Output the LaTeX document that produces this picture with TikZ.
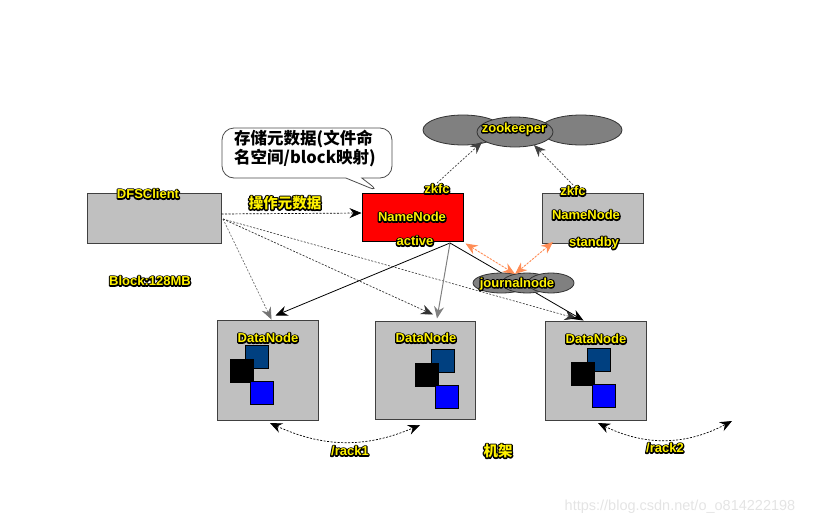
\documentclass[tikz,border=0pt]{standalone}
\usepackage{fontspec}
\setmainfont{Liberation Sans}
\newfontfamily\cjk{Noto Sans CJK SC}
\usetikzlibrary{arrows.meta,shapes.geometric,shapes.callouts}
\definecolor{boxgray}{HTML}{C0C0C0}
\definecolor{ellgray}{HTML}{808080}
\definecolor{dkblue}{HTML}{004080}
\definecolor{pureblue}{HTML}{0000FF}
\definecolor{orng}{HTML}{FF8C55}
\definecolor{wm}{HTML}{E4E4E4}
\newcommand\yl[1]{\rlap{\special{pdf:literal direct 1 Tr 2.6 w 1 j 0 0 0 RG}#1\special{pdf:literal direct 0 Tr}}#1}
\tikzset{
  box/.style={draw=black!75, line width=1pt, fill=boxgray, inner sep=0pt},
  sq/.style={draw=black, line width=0.8pt, minimum size=23pt, inner sep=0pt},
  ell/.style={ellipse, draw=black!80, line width=0.8pt, fill=ellgray, inner sep=0pt},
  lbl/.style={text=yellow, font=\bfseries\fontsize{13}{15}\selectfont, inner sep=0pt},
  clbl/.style={text=yellow, font=\cjk\bfseries\fontsize{14.5}{16}\selectfont, inner sep=0pt},
  tip/.style={Stealth[length=12pt,width=10pt,inset=4pt]},
  hd/.style={-{Stealth[length=12pt,width=10pt,inset=4pt]}},
  dhd/.style={{Stealth[length=12pt,width=10pt,inset=4pt]}-{Stealth[length=12pt,width=10pt,inset=4pt]}},
  dsh/.style={dashed, dash pattern=on 2pt off 1.5pt, line width=0.7pt},
}
\begin{document}
\begin{tikzpicture}[x=1pt,y=-1pt]
\useasboundingbox (0,0) rectangle (815,525);
% callout
\node[rectangle callout, draw=black!70, line width=0.8pt, fill=white, rounded corners=12pt,
      minimum width=170pt, minimum height=50pt, inner sep=0pt,
      callout absolute pointer={(380,192)}, callout pointer width=16pt] (call) at (307,153) {};
\node[anchor=north west, align=left, inner sep=0pt,
      font=\cjk\bfseries\fontsize{16.5}{19}\selectfont] (calltxt) at (234,130) {存储元数据(文件命\\名空间/block映射)};
% boxes
\node[box, minimum width=134pt, minimum height=50pt] (dfs) at (154,218) {};
\node[box, fill=red, draw=black, minimum width=101pt, minimum height=48pt] (nna) at (412.5,217) {};
\node[box, minimum width=101pt, minimum height=50pt] (nns) at (592.5,218) {};
\node[box, minimum width=101pt, minimum height=100pt] (dn1) at (267.5,370) {};
\node[box, minimum width=100pt, minimum height=98pt] (dn2) at (425,370) {};
\node[box, minimum width=101pt, minimum height=99pt] (dn3) at (595.5,370.5) {};
% squares
\node[sq, fill=dkblue] (dn1a) at (256.5,356.5) {};
\node[sq, fill=black] (dn1b) at (241.5,370.5) {};
\node[sq, fill=pureblue] (dn1c) at (261.5,392.5) {};
\node[sq, fill=dkblue] (dn2a) at (442.5,360.5) {};
\node[sq, fill=black] (dn2b) at (427,374.5) {};
\node[sq, fill=pureblue] (dn2c) at (447,396.5) {};
\node[sq, fill=dkblue] (dn3a) at (598.5,359.5) {};
\node[sq, fill=black] (dn3b) at (583,374) {};
\node[sq, fill=pureblue] (dn3c) at (603.5,396) {};
% coordinates
\coordinate (dfsout) at (223,219);
\coordinate (nnout) at (450,243);
% DFSClient -> NameNode
\draw[dsh, hd] ([yshift=4pt]dfs.east) -- ([yshift=4pt]nna.west);
% DFSClient -> DataNodes
\draw[dsh, draw=black!55, hd] (dfsout) -- ([xshift=4pt]dn1.north);
\draw[dsh, draw=black!80, hd] (dfsout) -- ([xshift=8pt,yshift=6pt]dn2.north);
\draw[dsh, draw=black!80, line width=0.6pt, hd] (dfsout) -- ([xshift=-19pt,yshift=2pt]dn3.north);
% NameNode -> DataNodes
\draw[line width=0.8pt, hd] (nnout) -- ([xshift=8pt,yshift=4pt]dn1.north);
\draw[line width=1pt, draw=black!50, hd] (nnout) -- ([xshift=12pt,yshift=2pt]dn2.north);
\draw[line width=0.8pt, hd] (nnout) -- ([xshift=-12pt]dn3.north);
% zookeeper
\node[ell, minimum width=80pt, minimum height=30pt] (zk1) at (463,130) {};
\node[ell, minimum width=82pt, minimum height=30pt] (zk3) at (581,130) {};
\node[ell, minimum width=76pt, minimum height=30pt] (zk2) at (515,132) {};
% journalnode
\node[ell, minimum width=57pt, minimum height=20pt] (jn1) at (501.5,283) {};
\node[ell, minimum width=50pt, minimum height=20pt] (jn2) at (527,283) {};
\node[ell, minimum width=46pt, minimum height=20pt] (jn3) at (551,283) {};
\coordinate (jntop) at (515,274);
% orange
\draw[dsh, draw=orng, fill=orng, line width=0.9pt, dhd] ([xshift=2pt,yshift=-2pt]nna.south east) -- (jntop);
\draw[dsh, draw=orng, fill=orng, line width=0.9pt, dhd] (553,242) -- (jntop);
% zkfc -> zookeeper
\draw[dsh, draw=black!75, hd] (437,183) -- (482,142);
\draw[dsh, draw=black!75, hd] (573,185) -- (534,145);
% racks
\coordinate (r1a) at (270,423);
\coordinate (r1b) at (420,425);
\coordinate (r2a) at (598,423);
\coordinate (r2b) at (732,421);
\draw[dsh, dhd] (r1a) to[bend right=24] (r1b);
\draw[dsh, dhd] (r2a) to[bend right=27] (r2b);
% labels
\node[lbl] (l-dfs) at (148,194) {\yl{DFSClient}};
\node[clbl] (l-op) at (285,203) {\yl{操作元数据}};
\node[lbl] (l-zk1) at (437,189) {\yl{zkfc}};
\node[lbl] (l-nn1) at (412,217) {\yl{NameNode}};
\node[lbl] (l-act) at (415,241) {\yl{active}};
\node[lbl] (l-zk2) at (573,191) {\yl{zkfc}};
\node[lbl] (l-nn2) at (586,215) {\yl{NameNode}};
\node[lbl] (l-sb) at (594,243) {\yl{standby}};
\node[lbl] (l-zoo) at (514,129) {\yl{zookeeper}};
\node[lbl] (l-jn) at (517,284) {\yl{journalnode}};
\node[lbl] (l-blk) at (150,281) {\yl{Block:128MB}};
\node[lbl] (l-dn1) at (268,338) {\yl{DataNode}};
\node[lbl] (l-dn2) at (426,338) {\yl{DataNode}};
\node[lbl] (l-dn3) at (596,339) {\yl{DataNode}};
\node[lbl] (l-r1) at (350,451) {\yl{/rack1}};
\node[clbl] (l-jj) at (498,451) {\yl{机架}};
\node[lbl] (l-r2) at (665,448) {\yl{/rack2}};
\node[text=wm, font=\fontsize{14.5}{16}\selectfont, inner sep=0pt] (wmark) at (680,507) {https://blog.csdn.net/o\_o814222198};
\end{tikzpicture}
\end{document}
